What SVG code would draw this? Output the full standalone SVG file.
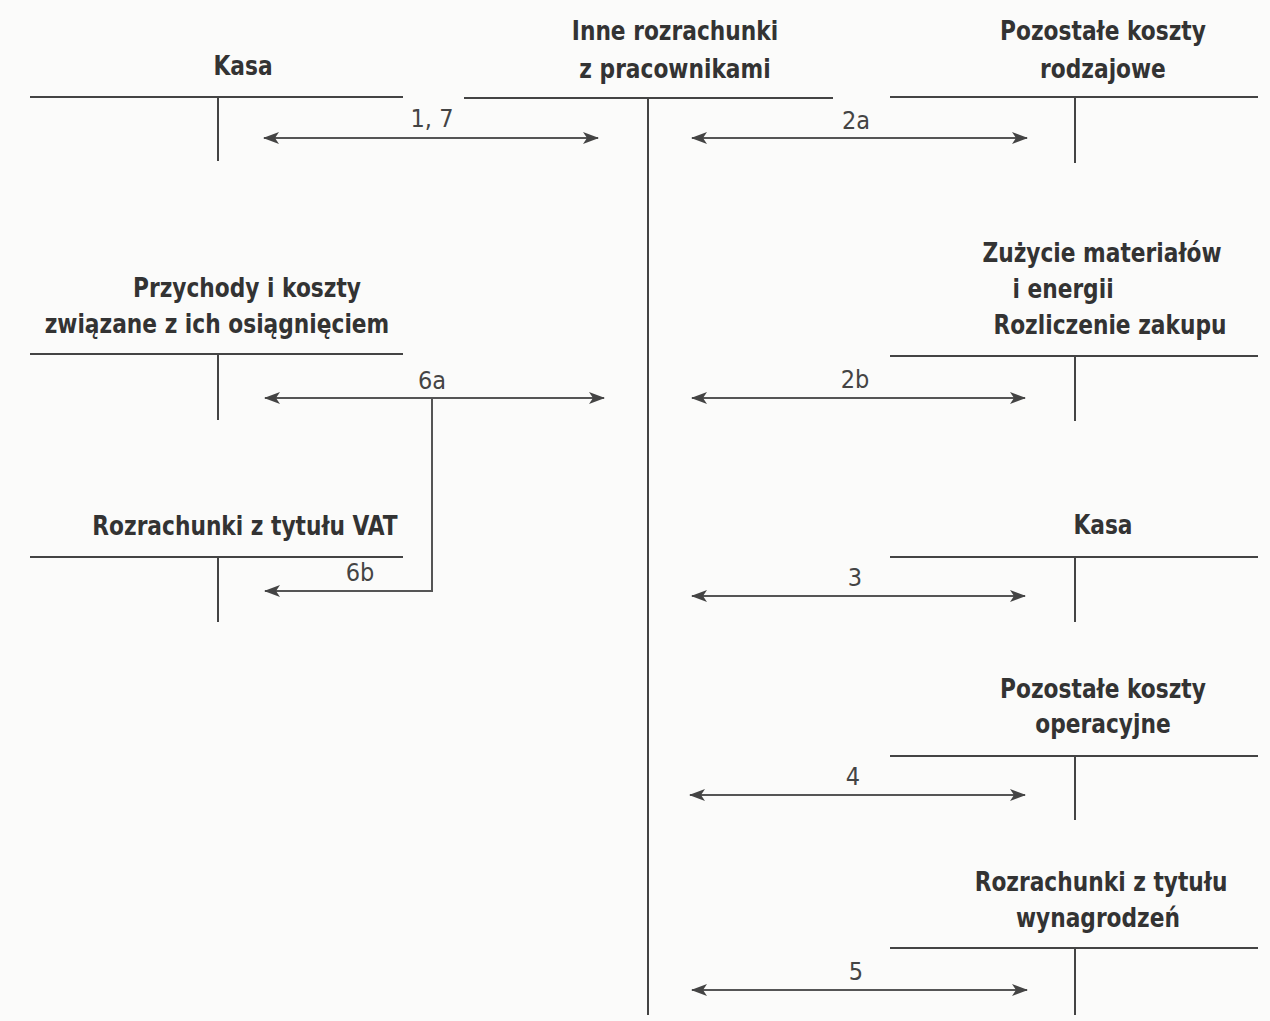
<svg xmlns="http://www.w3.org/2000/svg" width="1270" height="1021" viewBox="0 0 1270 1021">
<style>
.t{font-family:"Liberation Sans Narrow","DejaVu Sans Condensed","Liberation Sans",sans-serif;font-weight:bold;font-size:26px;fill:#333;text-anchor:middle;font-stretch:condensed}
.n{font-family:"Liberation Sans Narrow","DejaVu Sans Condensed","Liberation Sans",sans-serif;font-size:25px;fill:#444;text-anchor:middle;font-stretch:condensed}
.a{stroke:#444;stroke-width:2;fill:none}
.c{stroke:#555;stroke-width:2;fill:none}
</style>
<defs>
<marker id="ah" viewBox="0 0 16 12" refX="15" refY="6" markerWidth="16" markerHeight="12" markerUnits="userSpaceOnUse" orient="auto-start-reverse">
<path d="M0,0 L16,6 L0,12 L4,6 Z" fill="#444"/>
</marker>
</defs>
<rect width="1270" height="1021" fill="#fbfbfa"/>
<g id="kasa1">
<text class="t" transform="scale(0.93 1)" x="261.3" y="75">Kasa</text>
<path class="a" d="M30,97H403M218,97V161"/>
</g>
<g id="inne">
<text class="t" transform="scale(0.93 1)" x="725.8" y="40">Inne rozrachunki</text>
<text class="t" transform="scale(0.93 1)" x="725.8" y="78">z pracownikami</text>
<path class="a" d="M464,98H833M648,98V1015"/>
</g>
<g id="pkr">
<text class="t" transform="scale(0.93 1)" x="1186" y="40">Pozostałe koszty</text>
<text class="t" transform="scale(0.93 1)" x="1186" y="78">rodzajowe</text>
<path class="a" d="M890,97H1258M1075,97V163"/>
</g>
<g id="przychody">
<text class="t" transform="scale(0.93 1)" x="265.6" y="297">Przychody i koszty</text>
<text class="t" transform="scale(0.93 1)" x="233.3" y="333">związane z ich osiągnięciem</text>
<path class="a" d="M30,354H403M218,354V420"/>
</g>
<g id="vat">
<text class="t" transform="scale(0.93 1)" x="263.4" y="535">Rozrachunki z tytułu VAT</text>
<path class="a" d="M30,557H403M218,557V622"/>
</g>
<g id="zuzycie">
<text class="t" transform="scale(0.93 1)" x="1184.9" y="262">Zużycie materiałów</text>
<text class="t" transform="scale(0.93 1)" x="1143" y="298">i energii</text>
<text class="t" transform="scale(0.93 1)" x="1193.5" y="334">Rozliczenie zakupu</text>
<path class="a" d="M890,356H1258M1075,356V421"/>
</g>
<g id="kasa2">
<text class="t" transform="scale(0.93 1)" x="1186" y="534">Kasa</text>
<path class="a" d="M890,557H1258M1075,557V622"/>
</g>
<g id="pko">
<text class="t" transform="scale(0.93 1)" x="1186" y="698">Pozostałe koszty</text>
<text class="t" transform="scale(0.93 1)" x="1186" y="733">operacyjne</text>
<path class="a" d="M890,756H1258M1075,756V820"/>
</g>
<g id="wyn">
<text class="t" transform="scale(0.93 1)" x="1183.9" y="891">Rozrachunki z tytułu</text>
<text class="t" transform="scale(0.93 1)" x="1180.6" y="927">wynagrodzeń</text>
<path class="a" d="M890,948H1258M1075,948V1015"/>
</g>
<g id="connectors">
<path class="c" d="M264,138H598" marker-start="url(#ah)" marker-end="url(#ah)"/>
<text class="n" x="432" y="127">1, 7</text>
<path class="c" d="M692,138H1027" marker-start="url(#ah)" marker-end="url(#ah)"/>
<text class="n" x="856" y="129">2a</text>
<path class="c" d="M265,398H604" marker-start="url(#ah)" marker-end="url(#ah)"/>
<text class="n" x="432" y="389">6a</text>
<path class="c" d="M432,398V591H265" marker-end="url(#ah)"/>
<text class="n" x="360" y="581">6b</text>
<path class="c" d="M692,398H1025" marker-start="url(#ah)" marker-end="url(#ah)"/>
<text class="n" x="855" y="388">2b</text>
<path class="c" d="M692,596H1025" marker-start="url(#ah)" marker-end="url(#ah)"/>
<text class="n" x="855" y="586">3</text>
<path class="c" d="M690,795H1025" marker-start="url(#ah)" marker-end="url(#ah)"/>
<text class="n" x="853" y="785">4</text>
<path class="c" d="M692,990H1027" marker-start="url(#ah)" marker-end="url(#ah)"/>
<text class="n" x="856" y="980">5</text>
</g>
</svg>
